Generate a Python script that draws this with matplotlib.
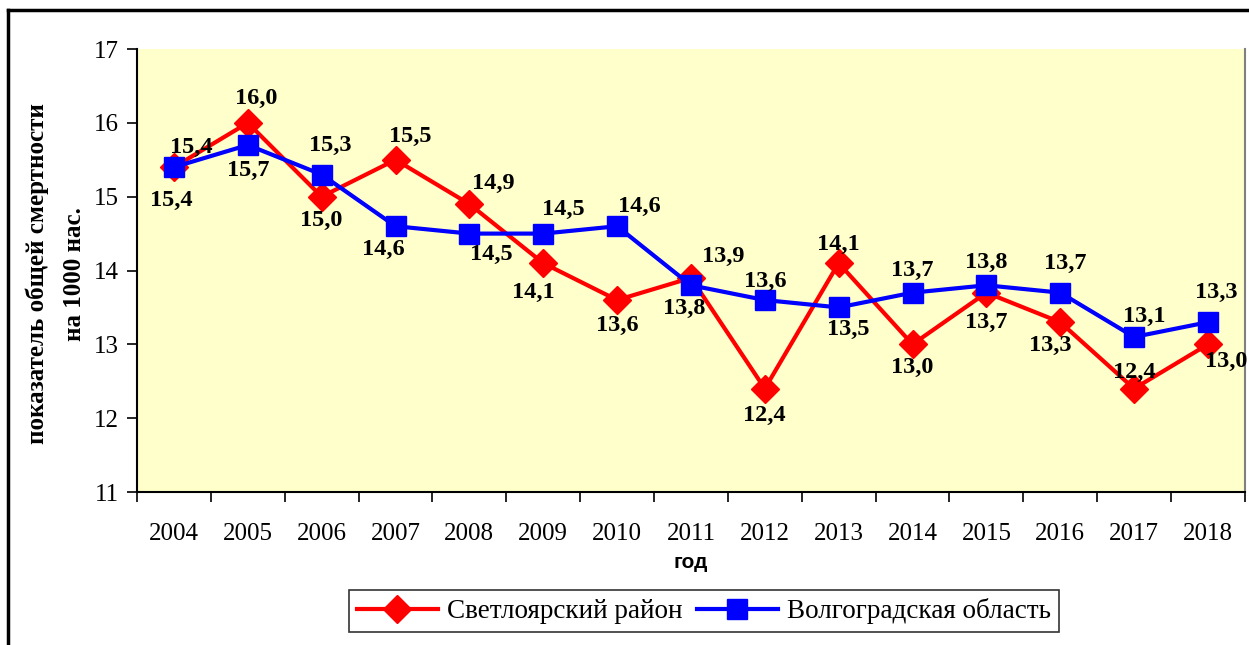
import matplotlib.pyplot as plt
from matplotlib.lines import Line2D
from matplotlib.ticker import FixedLocator

years = [2004, 2005, 2006, 2007, 2008, 2009, 2010, 2011, 2012, 2013, 2014, 2015, 2016, 2017, 2018]
svetloyar = [15.4, 16.0, 15.0, 15.5, 14.9, 14.1, 13.6, 13.9, 12.4, 14.1, 13.0, 13.7, 13.3, 12.4, 13.0]
volgograd = [15.4, 15.7, 15.3, 14.6, 14.5, 14.5, 14.6, 13.8, 13.6, 13.5, 13.7, 13.8, 13.7, 13.1, 13.3]

names = ['Светлоярский район', 'Волгоградская область']

# label offsets in pixels (dx, dy), screen y up
red_off = [(-3, -33), (8, 24), (0, -24), (15, 23), (24, 21), (-10, -29), (0, -25),
           (32, 21), (0, -27), (0, 19), (0, -23), (0, -30), (-10, -23), (0, 16), (18, -17)]
blue_off = [(17, 20), (0, -25), (9, 29), (-12, -23), (22, -21), (20, 24), (22, 20),
            (-7, -23), (0, 19), (10, -22), (0, 22), (0, 23), (5, 29), (10, 21), (8, 30)]

serif = 'Liberation Serif'

fig = plt.figure(figsize=(12.49, 6.45), dpi=100)
ax = fig.add_axes([0.1097, 0.2372, 0.887, 0.6868])
ax.set_facecolor('#FFFFCC')

x = list(range(len(years)))
ax.plot(x, svetloyar, color='#FF0000', lw=3, marker='D', ms=14, label=names[0], zorder=3)
ax.plot(x, volgograd, color='#0000FF', lw=3, marker='s', ms=15, label=names[1], zorder=4)

def lbl(v, dx, dy, xi):
    ax.annotate(f'{v:.1f}'.replace('.', ','), (xi, v), xytext=(dx, dy),
                textcoords='offset pixels', ha='center', va='center',
                fontfamily=serif, fontweight='bold', fontsize=17.5, zorder=5,
                annotation_clip=False)

for i in x:
    lbl(svetloyar[i], red_off[i][0], red_off[i][1], i)
    lbl(volgograd[i], blue_off[i][0], blue_off[i][1], i)

ax.set_xlim(-0.5, len(years) - 0.5)
ax.set_ylim(11, 17)
ax.set_yticks(range(11, 18))
ax.set_xticks(x)
ax.set_xticklabels([str(y) for y in years], fontfamily=serif, fontsize=18)
ax.xaxis.set_minor_locator(FixedLocator([i - 0.5 for i in range(len(years) + 1)]))
ax.tick_params(axis='x', which='major', length=0, pad=22)
ax.tick_params(axis='x', which='minor', length=7, width=1.2, direction='out')
ax.tick_params(axis='y', length=7, width=1.2, direction='out', pad=6)
for t in ax.get_yticklabels():
    t.set_fontfamily(serif)
    t.set_fontsize(18)

ax.spines['top'].set_visible(False)
ax.spines['right'].set_color('#808080')
ax.spines['right'].set_linewidth(1.5)
ax.spines['left'].set_linewidth(1.5)
ax.spines['bottom'].set_linewidth(1.5)

ax.set_xlabel('год', fontfamily='Liberation Sans', fontweight='bold', fontsize=15, labelpad=6)
fig.text(56 / 1249, 1 - 274 / 645, 'показатель общей смертности\nна 1000 нас.', rotation=90,
         ha='center', va='center', fontfamily=serif, fontweight='bold', fontsize=18,
         linespacing=1.75)

leg = ax.legend(loc='center', ncol=2, frameon=True, fancybox=False, edgecolor='black',
                prop={'family': serif, 'size': 19.5}, handlelength=3.0,
                columnspacing=0.5, handletextpad=0.35, borderpad=0.3)
leg.set_bbox_to_anchor((704 / 1249, 1 - 611 / 645), transform=fig.transFigure)
leg.get_frame().set_linewidth(1.2)

# outer frame
fig.add_artist(Line2D([8 / 1249, 1], [1 - 10 / 645, 1 - 10 / 645], color='black', lw=2.5))
fig.add_artist(Line2D([8 / 1249, 8 / 1249], [0, 1 - 10 / 645], color='black', lw=2.5))

fig.savefig('out.png', dpi=100)
